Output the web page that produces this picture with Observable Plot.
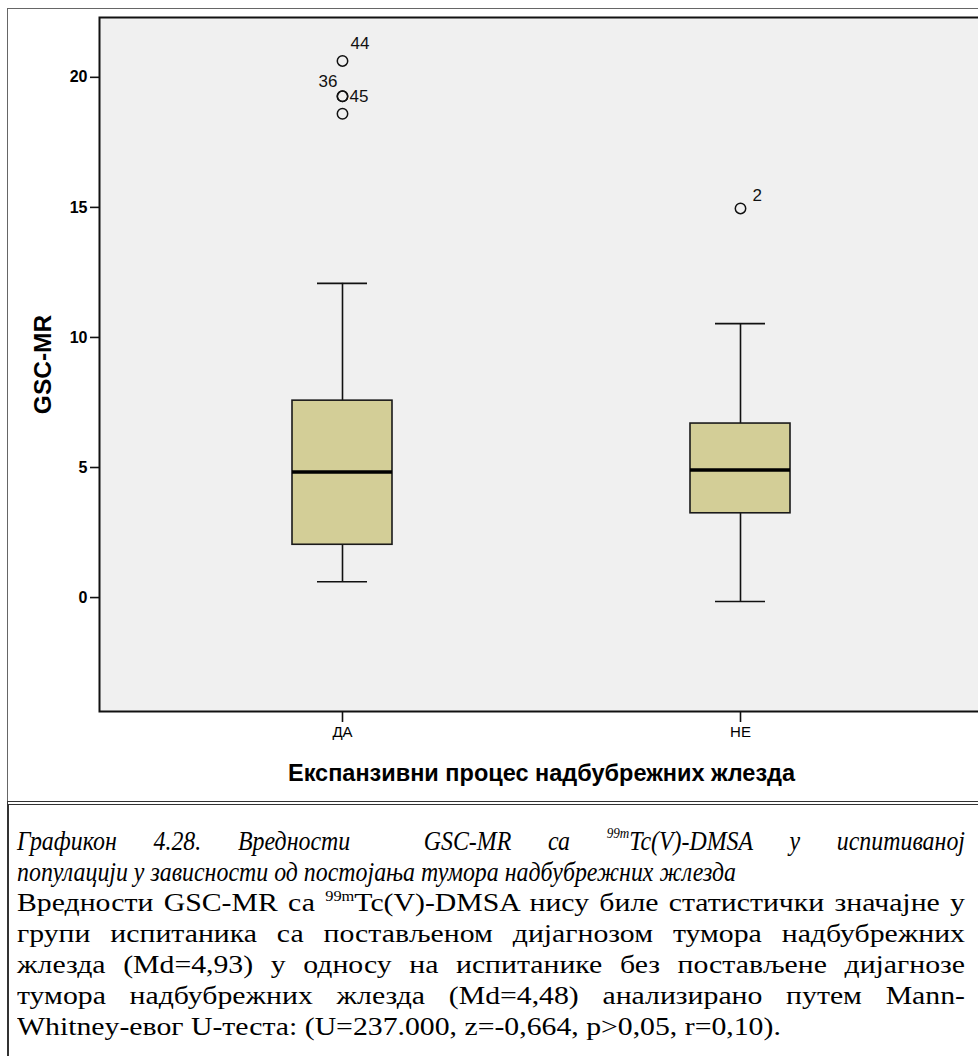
<!DOCTYPE html>
<html>
<head>
<meta charset="utf-8">
<script src="https://cdn.jsdelivr.net/npm/d3@7"></script>
<script src="https://cdn.jsdelivr.net/npm/@observablehq/plot@0.6"></script>
<style>
  html, body { margin: 0; padding: 0; background: #fff; }
  #page { position: relative; width: 978px; height: 1056px; overflow: hidden; background: #fff; }
  #frame { position: absolute; left: 7px; top: 8px; width: 1000px; height: 794px; border: 1px solid #666; box-sizing: border-box; }
  #chart { position: absolute; left: 0; top: 0; width: 990px; }
  #chart svg { max-width: none !important; }
  #caption { position: absolute; left: 7px; top: 801px; width: 1000px; height: 300px; border-top: 4px double #333; border-left: 2px solid #333; box-sizing: border-box; }
  #captext { position: absolute; left: 17px; top: 825px; width: 948px; font-family: "Liberation Serif", "Times New Roman", serif; font-size: 25px; line-height: 31px; color: #000; }
  .ln { white-space: nowrap; transform-origin: 0 0; height: 31px; }
  .j { text-align: justify; text-align-last: justify; white-space: normal; }
  #captext .it { font-style: italic; font-size: 28px; }
  sup { font-size: 55%; vertical-align: 0; position: relative; top: -0.75em; }
</style>
</head>
<body>
<div id="page">
  <div id="frame"></div>
  <div id="chart"></div>
  <div id="caption"></div>
  <div id="captext">
    <div class="ln j it" data-s="0.853">Графикон 4.28. Вредности&nbsp; GSC-MR са <sup>99m</sup>Tc(V)-DMSA у испитиваној</div>
    <div class="ln it" data-s="0.853">популацији у зависности од постојања тумора надбубрежних жлезда</div>
    <div class="ln j" data-s="1.19">Вредности GSC-MR са <sup>99m</sup>Tc(V)-DMSA нису биле статистички значајне у</div>
    <div class="ln j" data-s="1.19">групи испитаника са постављеном дијагнозом тумора надбубрежних</div>
    <div class="ln j" data-s="1.19">жлезда (Md=4,93) у односу на испитанике без постављене дијагнозе</div>
    <div class="ln j" data-s="1.19">тумора надбубрежних жлезда (Md=4,48) анализирано путем Mann-</div>
    <div class="ln" data-s="1.19">Whitney-евог U-теста: (U=237.000, z=-0,664, p&gt;0,05, r=0,10).</div>
  </div>
</div>
<script>
// ---- data ----
const groups = ["ДА", "НЕ"];
const whiskerLow = [0.61, -0.15];
const q1 = [2.03, 3.24];
const median = [4.83, 4.90];
const q3 = [7.57, 6.69];
const whiskerHigh = [12.08, 10.53];

const outlierGroup = ["ДА", "ДА", "ДА", "ДА", "НЕ"];
const outlierValue = [20.63, 19.27, 19.27, 18.6, 14.96];
const outlierLabel = ["44", "36", "45", "", "2"];

const yTicks = [0, 5, 10, 15, 20];
const yDomain = [-4.38, 22.3];
const yTitle = "GSC-MR";
const xTitle = "Експанзивни процес надбубрежних жлезда";

// ---- caption line scaling (layout only) ----
document.querySelectorAll("#captext .ln").forEach(el => {
  const s = +el.dataset.s;
  el.style.transform = `scaleX(${s})`;
  if (el.classList.contains("j")) el.style.width = (948 / s) + "px";
});

// ---- tables built from the arrays ----
const boxes = groups.map((g, i) => ({
  group: g, lo: whiskerLow[i], q1: q1[i], med: median[i], q3: q3[i], hi: whiskerHigh[i]
}));
const outliers = outlierValue.map((v, i) => ({ group: outlierGroup[i], value: v, label: outlierLabel[i] }));

const labelStyle = { x: "group", y: "value", text: "label", fontSize: 17, fill: "#111" };

const chart = Plot.plot({
  width: 990,
  height: 800,
  marginLeft: 99,
  marginRight: 7,
  marginTop: 17,
  marginBottom: 89,
  style: { fontFamily: "'Liberation Sans', Arial, sans-serif", background: "transparent", color: "#000", maxWidth: "none" },
  x: { type: "band", domain: groups, paddingInner: 0.749, paddingOuter: 0.485, align: 0.5, label: null },
  y: { domain: yDomain, label: null },
  marks: [
    Plot.frame({ fill: "#f0f0f0" }),
    Plot.ruleX(boxes, { x: "group", y1: "lo", y2: "q1", stroke: "#111", strokeWidth: 1.6 }),
    Plot.ruleX(boxes, { x: "group", y1: "q3", y2: "hi", stroke: "#111", strokeWidth: 1.6 }),
    Plot.tickY(boxes, { x: "group", y: "lo", insetLeft: 25, insetRight: 25, stroke: "#111", strokeWidth: 1.6 }),
    Plot.tickY(boxes, { x: "group", y: "hi", insetLeft: 25, insetRight: 25, stroke: "#111", strokeWidth: 1.6 }),
    Plot.barY(boxes, { x: "group", y1: "q1", y2: "q3", fill: "#d3ce97", stroke: "#1a1a1a", strokeWidth: 1.6 }),
    Plot.tickY(boxes, { x: "group", y: "med", stroke: "#000", strokeWidth: 3.5 }),
    Plot.dot(outliers, { x: "group", y: "value", r: 5.2, stroke: "#111", strokeWidth: 1.5, fill: "none" }),
    Plot.text(outliers.filter(d => d.label === "44"), { ...labelStyle, dx: 8, dy: -17, textAnchor: "start" }),
    Plot.text(outliers.filter(d => d.label === "36"), { ...labelStyle, dx: -5, dy: -15, textAnchor: "end" }),
    Plot.text(outliers.filter(d => d.label === "45"), { ...labelStyle, dx: 7, dy: 0, textAnchor: "start" }),
    Plot.text(outliers.filter(d => d.label === "2"), { ...labelStyle, dx: 12, dy: -13, textAnchor: "start" }),
    Plot.axisY({ ticks: yTicks, tickSize: 9, tickPadding: 3, fontSize: 16, fontWeight: "bold", stroke: "#111", strokeWidth: 1.6, label: null }),
    Plot.axisX({ tickSize: 11, tickPadding: 4, fontSize: 15, stroke: "#111", strokeWidth: 1.6, label: null }),
    Plot.frame({ stroke: "#111", strokeWidth: 2 }),
    Plot.text([yTitle], { frameAnchor: "left", dx: -56, rotate: -90, textAnchor: "middle", lineAnchor: "middle", fontSize: 24.5, fontWeight: "bold", fill: "#000" }),
    Plot.text([xTitle], { frameAnchor: "bottom", dy: 62, textAnchor: "middle", lineAnchor: "middle", fontSize: 23.5, fontWeight: "bold", fill: "#000" })
  ]
});
document.getElementById("chart").appendChild(chart);
</script>
</body>
</html>
